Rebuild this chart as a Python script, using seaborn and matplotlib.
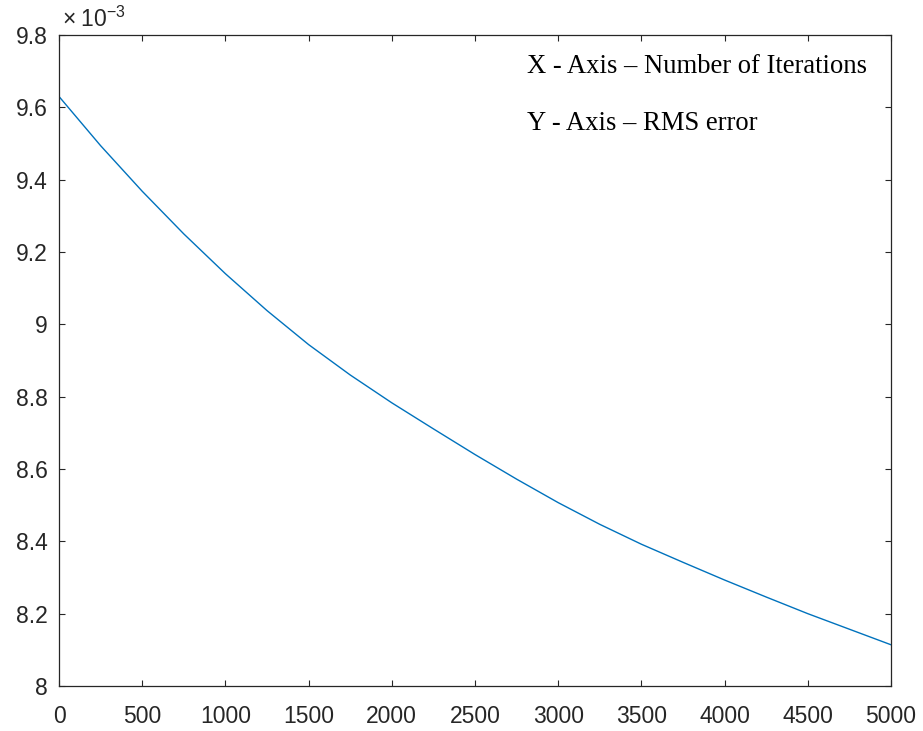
import matplotlib
matplotlib.use("Agg")
import matplotlib.pyplot as plt
import pandas as pd
import seaborn as sns

# RMS error recorded during training, sampled every 250 iterations
iterations = [0, 250, 500, 750, 1000, 1250, 1500, 1750, 2000, 2250, 2500,
              2750, 3000, 3250, 3500, 3750, 4000, 4250, 4500, 4750, 5000]
rms_error = [9.630e-3, 9.494e-3, 9.368e-3, 9.250e-3, 9.140e-3, 9.038e-3,
             8.944e-3, 8.860e-3, 8.783e-3, 8.711e-3, 8.640e-3, 8.572e-3,
             8.507e-3, 8.447e-3, 8.392e-3, 8.342e-3, 8.293e-3, 8.246e-3,
             8.200e-3, 8.157e-3, 8.114e-3]

x_ticks = [0, 500, 1000, 1500, 2000, 2500, 3000, 3500, 4000, 4500, 5000]
y_ticks = [8.0e-3, 8.2e-3, 8.4e-3, 8.6e-3, 8.8e-3, 9.0e-3, 9.2e-3, 9.4e-3, 9.6e-3, 9.8e-3]
y_tick_labels = ["8", "8.2", "8.4", "8.6", "8.8", "9", "9.2", "9.4", "9.6", "9.8"]
y_exponent = r"$\times\;\mathregular{10^{-3}}$"
axis_notes = ["X - Axis \u2013 Number of Iterations", "Y - Axis \u2013 RMS error"]

sns.set_theme(style="ticks")
plt.rcParams["font.family"] = ["Liberation Sans", "DejaVu Sans"]
plt.rcParams["mathtext.fontset"] = "custom"
plt.rcParams["mathtext.rm"] = "Liberation Sans"
plt.rcParams["mathtext.it"] = "Liberation Sans:italic"
plt.rcParams["mathtext.bf"] = "Liberation Sans:bold"

axis_gray = "#262626"
line_blue = "#0072BD"

W, H = 923, 731
fig = plt.figure(figsize=(W / 100, H / 100), dpi=100)
fig.patch.set_facecolor("white")
ax = fig.add_axes([59 / W, 1 - 686 / H, 832 / W, 651 / H])
ax.set_facecolor("white")

df = pd.DataFrame({"iteration": iterations, "rms": rms_error})
sns.lineplot(data=df, x="iteration", y="rms", ax=ax, color=line_blue, linewidth=1.0)

ax.set_xlim(0, 5000)
ax.set_ylim(8.0e-3, 9.8e-3)
ax.set_xticks(x_ticks)
ax.set_xticklabels([str(t) for t in x_ticks])
ax.set_yticks(y_ticks)
ax.set_yticklabels(y_tick_labels)
ax.set_xlabel("")
ax.set_ylabel("")

for spine in ax.spines.values():
    spine.set_visible(True)
    spine.set_color(axis_gray)
    spine.set_linewidth(0.9)

ax.tick_params(direction="in", length=4.3, width=0.8, colors=axis_gray,
               labelsize=16.5, top=True, right=True,
               labeltop=False, labelright=False)
ax.tick_params(axis="x", pad=13.5)
ax.tick_params(axis="y", pad=8)

# exponent shared by the y tick labels
ax.text(0.004, 1 + 8 / 651, y_exponent, transform=ax.transAxes,
        ha="left", va="baseline", fontsize=16.5, color=axis_gray)

# axis description notes in the upper right
note_baselines = [(686 - 73) / 651, (686 - 130) / 651]
for note, yb in zip(axis_notes, note_baselines):
    ax.text((527 - 59) / 832, yb, note, transform=ax.transAxes,
            ha="left", va="baseline", fontsize=19.2,
            family="Liberation Serif", color="black")

fig.savefig("out.png", dpi=100, facecolor="white")
